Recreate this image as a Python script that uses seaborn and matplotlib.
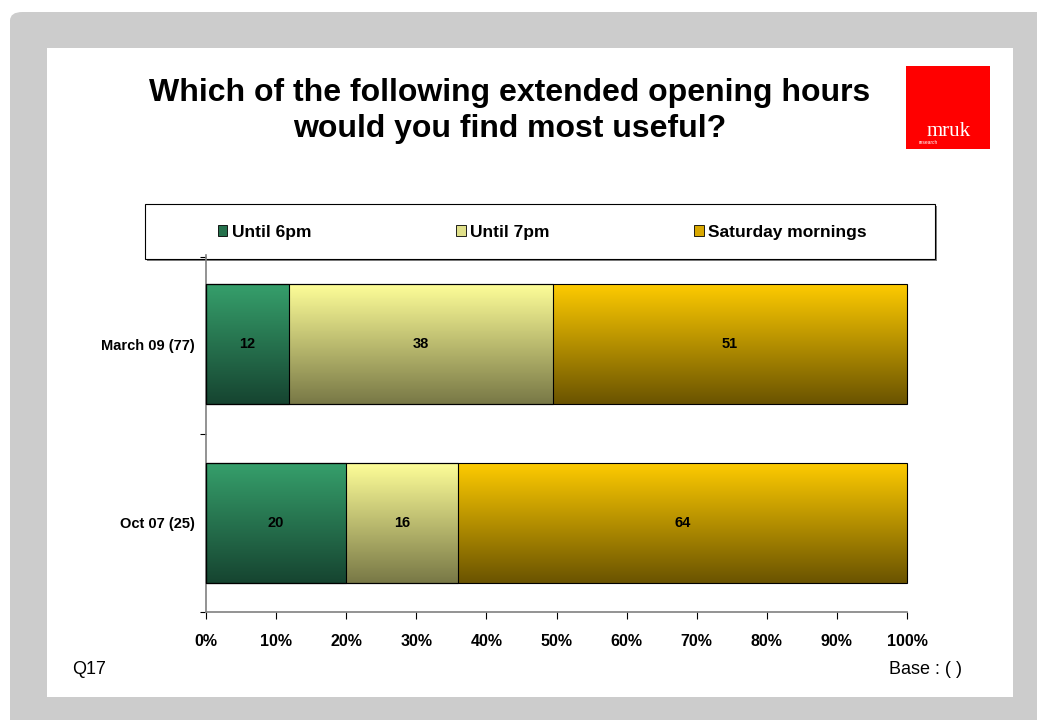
import numpy as np
import pandas as pd
import matplotlib
matplotlib.use('Agg')
import matplotlib.pyplot as plt
import seaborn as sns
from matplotlib.patches import Rectangle, FancyBboxPatch, Patch
from matplotlib.colors import LinearSegmentedColormap
from matplotlib.ticker import FixedLocator

periods = ['March 09 (77)', 'Oct 07 (25)']
series = ['Until 6pm', 'Until 7pm', 'Saturday mornings']
until_6pm = [12, 20]
until_7pm = [38, 16]
saturday = [51, 64]
x_ticks = [0, 10, 20, 30, 40, 50, 60, 70, 80, 90, 100]

title = 'Which of the following extended opening hours\nwould you find most useful?'

# top / bottom colour of each gradient fill
grad_cols = [('#36a06c', '#164430'),
             ('#ffff99', '#787846'),
             ('#ffcc00', '#6a5300')]
legend_cols = ['#25714c', '#e0e08a', '#d9a800']

sns.set_style('white')
plt.rcParams['font.family'] = ['Liberation Sans', 'DejaVu Sans']
plt.rcParams['text.color'] = 'black'
plt.rcParams['xtick.color'] = 'black'
plt.rcParams['ytick.color'] = 'black'

W, H = 1037, 720
fig = plt.figure(figsize=(W / 100, H / 100), dpi=100)
fig.patch.set_facecolor('white')

def fx(px):
    return px / W

def fy(py):
    return 1 - py / H

# background panels
fig.patches.append(FancyBboxPatch((fx(10), fy(760)), fx(1100), 748 / H,
                                  boxstyle='round,pad=0,rounding_size=0.012',
                                  transform=fig.transFigure, facecolor='#cccccc',
                                  edgecolor='none', zorder=-3))
fig.patches.append(Rectangle((fx(47), fy(697)), fx(1013 - 47), (697 - 48) / H,
                             transform=fig.transFigure, facecolor='white',
                             edgecolor='none', zorder=-2))

# data table, shares as percentage of each row total
df = pd.DataFrame({'period': periods, series[0]: until_6pm,
                   series[1]: until_7pm, series[2]: saturday})
vals = df[series].to_numpy(dtype=float)
shares = vals / vals.sum(axis=1, keepdims=True) * 100
cum = np.cumsum(shares, axis=1)
for i, s in enumerate(series):
    df['cum_' + s] = cum[:, i]

ax = fig.add_axes([fx(206), fy(612), fx(907 - 206), (612 - 255) / H])
ax.set_facecolor('none')
ax.set_zorder(5)

# stacked bars: draw totals back to front
for i in reversed(range(len(series))):
    sns.barplot(data=df, x='cum_' + series[i], y='period', orient='h',
                color=grad_cols[i][0], width=0.675, errorbar=None, ax=ax)

gradient = np.linspace(0, 1, 256).reshape(-1, 1)
n = len(periods)
for k, p in enumerate(ax.patches):
    si = len(series) - 1 - k // n
    cmap = LinearSegmentedColormap.from_list('g', [grad_cols[si][0], grad_cols[si][1]])
    x0, y0 = p.get_x(), p.get_y()
    w, h = p.get_width(), p.get_height()
    im = ax.imshow(gradient, cmap=cmap, aspect='auto',
                   extent=[x0, x0 + w, y0 + h, y0], origin='upper',
                   zorder=1 + k // n, interpolation='bilinear')
    im.set_clip_path(p)
    p.set_facecolor('none')
    p.set_edgecolor('black')
    p.set_linewidth(0.8)
    p.set_zorder(10)
    p.set_clip_on(False)

# value labels in the middle of each segment
for r in range(n):
    starts = np.concatenate([[0], cum[r, :-1]])
    for i in range(len(series)):
        ax.text(starts[i] + shares[r, i] / 2, r, f'{int(vals[r, i])}',
                ha='center', va='center', fontsize=10.5, fontweight='bold', zorder=12)

ax.set_xlim(0, 100)
ax.set_ylim(n - 0.5, -0.5)
ax.set_xticks(x_ticks)
ax.set_xticklabels([f'{t}%' for t in x_ticks], fontsize=11.5, fontweight='bold')
ax.set_yticks(range(n))
ax.set_yticklabels(periods, fontsize=10.5, fontweight='bold')
ax.yaxis.set_minor_locator(FixedLocator([-0.49 + i * 0.995 for i in range(n + 1)]))
ax.tick_params(axis='y', which='major', length=0, pad=8)
ax.tick_params(axis='y', which='minor', length=4, direction='out', color='black', width=0.8, left=True)
ax.tick_params(axis='x', which='major', length=5, direction='out', color='black', width=0.8,
               bottom=True, pad=11)
ax.set_xlabel('')
ax.set_ylabel('')
for sp in ['top', 'right']:
    ax.spines[sp].set_visible(False)
for sp in ['left', 'bottom']:
    ax.spines[sp].set_color('#808080')
    ax.spines[sp].set_linewidth(1.2)

# title
fig.text(fx(510), fy(111), title, ha='center', va='center', fontsize=23,
         fontweight='bold', linespacing=1.3)

# logo
fig.patches.append(Rectangle((fx(906), fy(149)), fx(84), 83 / H,
                             transform=fig.transFigure, facecolor='#ff0000',
                             edgecolor='none', zorder=2))
fig.text(fx(949), fy(131), 'mruk', ha='center', va='center', fontsize=15,
         color='white', family=['Liberation Serif', 'DejaVu Serif'], zorder=3)
fig.text(fx(919), fy(143), 'research', ha='left', va='center', fontsize=3.5,
         color='white', zorder=3)

# legend box with shadow
fig.patches.append(Rectangle((fx(147), fy(261)), fx(790), 55 / H,
                             transform=fig.transFigure, facecolor='#808080',
                             edgecolor='none', zorder=2))
fig.patches.append(Rectangle((fx(145), fy(259)), fx(790), 55 / H,
                             transform=fig.transFigure, facecolor='white',
                             edgecolor='black', linewidth=0.8, zorder=3))
handles = [Patch(facecolor=c, edgecolor='black', linewidth=0.6) for c in legend_cols]
leg = fig.legend(handles, series, loc='center left', bbox_to_anchor=(fx(202), fy(232)),
                 ncol=3, frameon=False, handlelength=0.55, handleheight=0.55,
                 handletextpad=0.25, columnspacing=8.35,
                 prop={'weight': 'bold', 'size': 12.5})
leg.set_zorder(6)

fig.text(fx(72), fy(669), 'Q17', ha='left', va='center', fontsize=13)
fig.text(fx(962), fy(669), 'Base : ( )', ha='right', va='center', fontsize=13)

fig.savefig('out.png', dpi=100)
